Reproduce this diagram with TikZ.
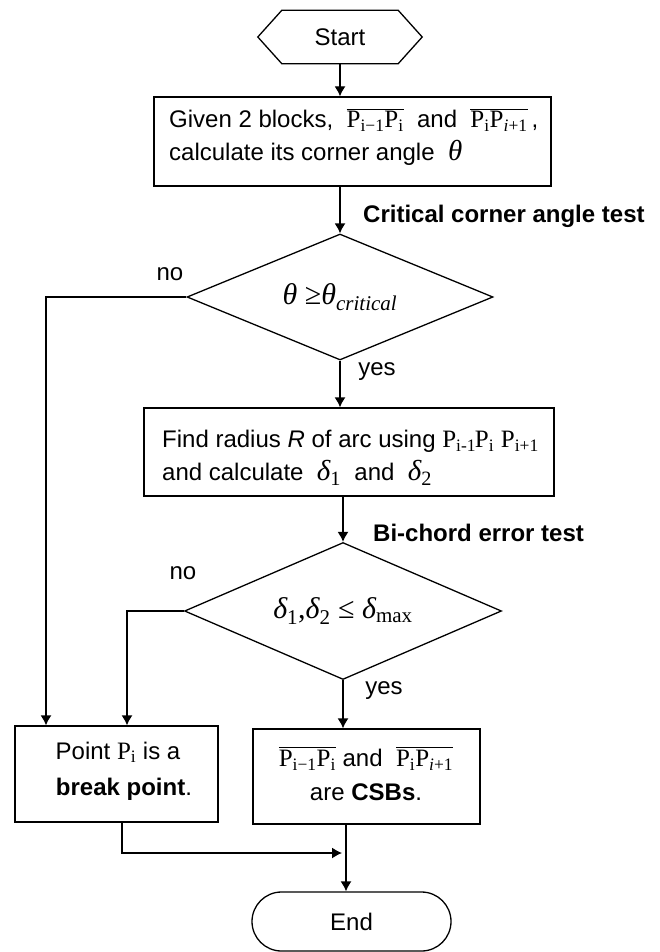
\documentclass[tikz,border=0pt]{standalone}
\usepackage{fontspec}
\setmainfont{Liberation Sans}
\newfontfamily\tms{Liberation Serif}
\usetikzlibrary{arrows.meta,shapes.geometric,shapes.misc}

% Times-style symbols with subscripts
\newcommand\Pp[1]{{\tms\fontsize{25}{30}\selectfont P\textsubscript{#1}}}
\newcommand\Pseg[2]{$\overline{\vphantom{\hbox{\tms\fontsize{27}{30}\selectfont P}}\hbox{\tms\fontsize{25}{30}\selectfont P\textsubscript{#1}P\textsubscript{#2}}}$}
\newcommand\gk[1]{{\tms\fontsize{29}{30}\selectfont\itshape #1}}

\begin{document}
\begin{tikzpicture}[x=1pt,y=-1pt,
  every node/.style={font=\fontsize{24}{33}\selectfont, text=black},
  boxnode/.style={draw, line width=1.3pt, rectangle, inner sep=0pt},
  decision/.style={draw, line width=1.3pt, diamond, aspect=2.4, inner sep=0pt},
  terminal/.style={draw, line width=1.3pt, rounded rectangle, inner sep=0pt},
  txt/.style={inner sep=0pt, align=left},
  lbl/.style={inner sep=0pt},
  conn/.style={line width=1.3pt},
  arr/.style={line width=1.3pt, -{Latex[length=10pt,width=11pt]}}
]
\useasboundingbox (0,0) rectangle (659,952);

% Start (hexagon drawn round an invisible frame)
\node[inner sep=0pt, minimum width=164pt, minimum height=53pt] (start) at (340,37) {Start};
\draw[conn] (start.west) -- ([xshift=24pt]start.north west) -- ([xshift=-24pt]start.north east)
  -- (start.east) -- ([xshift=-24pt]start.south east) -- ([xshift=24pt]start.south west) -- cycle;

% Corner angle computation
\node[boxnode, minimum width=397pt, minimum height=89pt] (b1) at (352.5,141.5) {};
\node[txt, anchor=west] (t1) at (169,137)
  {Given 2 blocks,\ \ \Pseg{i−1}{i}\ \ and\ \ \Pseg{i}{\itshape i\upshape+1}\,,\\
   calculate its corner angle\ \ \gk{θ}};

\node[lbl, font=\fontsize{24}{28}\selectfont\bfseries, anchor=west] (c1) at (363,216) {Critical corner angle test};

% Critical angle test
\node[decision, minimum width=306pt, minimum height=126pt] (d1) at (340,297)
  {{\tms\fontsize{30}{30}\selectfont\itshape θ\upshape\ ≥\itshape θ\textsubscript{critical}}};
\node[lbl] (no1) at (170,274) {no};
\node[lbl] (yes1) at (377,372) {yes};

% Radius and errors
\node[boxnode, minimum width=410pt, minimum height=88pt] (b2) at (349,452) {};
\node[txt, anchor=west] (t2) at (162,458)
  {Find radius \textit{R} of arc using \Pp{i-1}\kern-0.05em\Pp{i}\ \Pp{i+1}\\
   and calculate\ \ \gk{δ}{\tms\fontsize{29}{30}\selectfont\textsubscript{1}}\ \ and\ \ \gk{δ}{\tms\fontsize{29}{30}\selectfont\textsubscript{2}}};

\node[lbl, font=\fontsize{24}{28}\selectfont\bfseries, anchor=west] (c2) at (373,533) {Bi-chord error test};

% Bi-chord error test
\node[decision, minimum width=317pt, minimum height=137pt] (d2) at (343,611)
  {{\tms\fontsize{30}{30}\selectfont\itshape δ\upshape\textsubscript{1},\itshape δ\upshape\textsubscript{2}\ ≤\ \itshape δ\upshape\textsubscript{max}}};
\node[lbl] (no2) at (183,573) {no};
\node[lbl] (yes2) at (384,691) {yes};

% Outcomes
\node[boxnode, minimum width=203pt, minimum height=96pt] (brk) at (116.5,774) {};
\node[txt, align=center, font=\fontsize{24}{36}\selectfont] (t3) at (118,771)
  {Point \Pp{i} is a\\ \hspace*{12pt}\textbf{break point}.};

\node[boxnode, minimum width=227pt, minimum height=95pt] (csb) at (366.5,776.5) {};
\node[txt, align=center, font=\fontsize{24}{34}\selectfont] (t4) at (366,774)
  {\Pseg{i−1}{i} and\ \ \Pseg{i}{\itshape i\upshape+1}\\ are \textbf{CSBs}.};

% End
\node[terminal, minimum width=199pt, minimum height=59pt] (end) at (351.5,921.5) {End};

% Routing columns
\coordinate (lft) at (46,0);
\coordinate (lft2) at (127,0);
\coordinate (bcol) at (122,0);
\coordinate (ecol) at (346,0);
\coordinate (join) at (342,853);

% Connectors
\draw[arr] (start.south) -- (start.south |- b1.north);
\draw[arr] (d1.north |- b1.south) -- (d1.north);
\draw[arr] (d1.west) -- (d1.west -| lft) -- (lft |- brk.north);
\draw[arr] (d1.south) -- (d1.south |- b2.north);
\draw[arr] (d2.north |- b2.south) -- (d2.north);
\draw[arr] (d2.west) -- (d2.west -| lft2) -- (lft2 |- brk.north);
\draw[arr] (d2.south) -- (d2.south |- csb.north);
\draw[arr] (ecol |- csb.south) -- (ecol |- end.north);
\draw[arr] (bcol |- brk.south) -- (bcol |- join) -- (join);
\end{tikzpicture}
\end{document}
